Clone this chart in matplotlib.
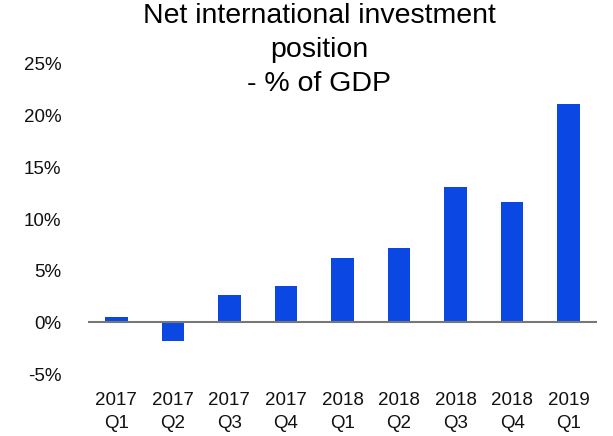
import matplotlib
matplotlib.use('Agg')
import matplotlib.pyplot as plt
import numpy as np

quarters = ['2017\nQ1', '2017\nQ2', '2017\nQ3', '2017\nQ4', '2018\nQ1',
            '2018\nQ2', '2018\nQ3', '2018\nQ4', '2019\nQ1']
niip_pct = [0.5, -1.8, 2.6, 3.5, 6.2, 7.2, 13.1, 11.6, 21.1]
y_ticks = [-5, 0, 5, 10, 15, 20, 25]

plt.rcParams['font.family'] = ['Liberation Sans', 'DejaVu Sans']

fig = plt.figure(figsize=(6.13, 4.36), dpi=100)
ax = fig.add_axes([88 / 613, 1 - 374 / 436, (597 - 88) / 613, (374 - 64) / 436])

x = np.arange(len(quarters))
ax.bar(x, niip_pct, width=0.4, color='#0b47e3', zorder=2)
ax.axhline(0, color='#777777', linewidth=1.5, zorder=3)

ax.set_xlim(-0.5, len(quarters) - 0.5)
ax.set_ylim(-5, 25)
ax.set_yticks(y_ticks)
ax.set_yticklabels([f'{v}%' for v in y_ticks])
ax.set_xticks(x)
ax.set_xticklabels(quarters, linespacing=1.45)
ax.tick_params(axis='y', length=0, pad=19, labelsize=13.5, colors='#111111')
ax.tick_params(axis='x', length=0, pad=13, labelsize=13.5, colors='#111111')
for s in ax.spines.values():
    s.set_visible(False)

fig.text(319 / 613, 1 - 3 / 436, 'Net international investment\nposition\n- % of GDP',
         ha='center', va='top', fontsize=20.5, linespacing=1.4, color='black')

fig.savefig('out.png', dpi=100)
